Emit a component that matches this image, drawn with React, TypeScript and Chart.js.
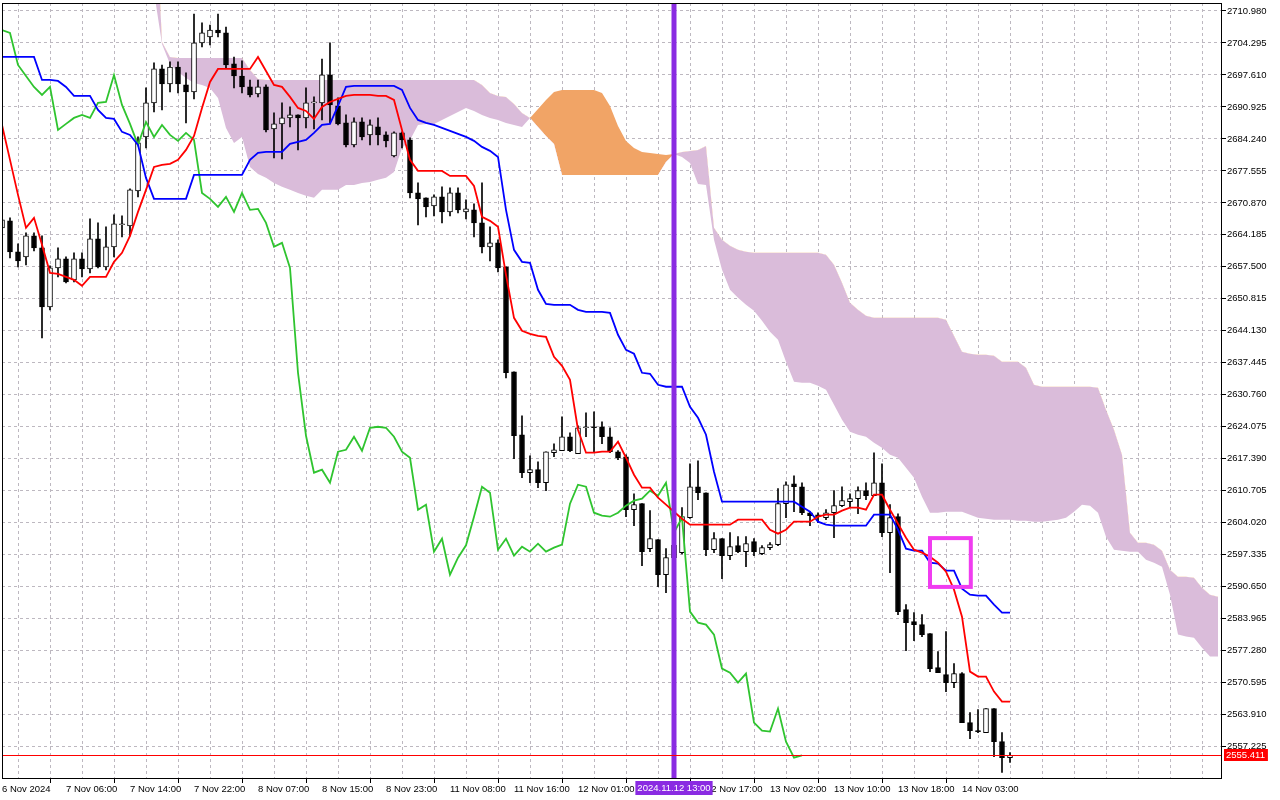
import { useEffect, useRef } from "react"
import { Chart, registerables } from "chart.js"

Chart.register(...registerables)

// XAUUSD H1, bar 0 = 6 Nov 2024 21:00 (server time)
const timeLabels = [
  "6 Nov 2024", "7 Nov 06:00", "7 Nov 14:00", "7 Nov 22:00", "8 Nov 07:00", "8 Nov 15:00",
  "8 Nov 23:00", "11 Nov 08:00", "11 Nov 16:00", "12 Nov 01:00", "12 Nov 09:00", "12 Nov 17:00",
  "13 Nov 02:00", "13 Nov 10:00", "13 Nov 18:00", "14 Nov 03:00",
]

const priceTicks = [
  2557.225, 2563.91, 2570.595, 2577.28, 2583.965, 2590.65, 2597.335, 2604.02, 2610.705, 2617.39,
  2624.075, 2630.76, 2637.445, 2644.13, 2650.815, 2657.5, 2664.185, 2670.87, 2677.555, 2684.24,
  2690.925, 2697.61, 2704.295, 2710.98,
]

const opens = [
  2665.65, 2667.11, 2660.64, 2659.59, 2663.98, 2661.47, 2649.15, 2657.29, 2659.18, 2654.79,
  2659.18, 2657.08, 2663.35, 2657.5, 2661.68, 2666.3, 2666.07, 2673.38, 2684.66, 2691.76,
  2698.87, 2695.73, 2699.28, 2695.52, 2694.06, 2704.3, 2705.55, 2707.01, 2706.39, 2699.91,
  2697.4, 2695.11, 2693.64, 2695.11, 2686.33, 2687.38, 2688.63, 2689.26, 2688.63, 2691.76,
  2691.76, 2697.61, 2691.14, 2687.59, 2682.99, 2687.79, 2685.08, 2686.75, 2685.08, 2680.69,
  2685.5, 2684.03, 2672.96, 2671.92, 2670.25, 2672.13, 2668.99, 2672.96, 2668.99, 2669.41,
  2666.69, 2661.68, 2662.52, 2657.5, 2635.57, 2622.41, 2614.47, 2615.1, 2612.38, 2618.65,
  2619.06, 2621.99, 2618.44, 2623.87, 2624.08, 2624.08, 2621.99, 2618.86, 2617.81, 2606.74,
  2608.0, 2598.59, 2600.47, 2593.16, 2596.71, 2597.76, 2605.07, 2611.54, 2610.29, 2598.38,
  2600.68, 2597.13, 2599.22, 2597.97, 2600.06, 2597.55, 2598.8, 2599.43, 2608.0, 2612.17,
  2611.54, 2606.11, 2605.69, 2605.07, 2606.11, 2607.58, 2608.41, 2609.04, 2610.71, 2609.67,
  2612.38, 2601.94, 2605.28, 2585.85, 2583.34, 2582.72, 2580.84, 2573.74, 2572.27, 2570.6,
  2572.48, 2562.24, 2560.57, 2560.15, 2565.17, 2558.27, 2554.93,
]

const highs = [
  2667.74, 2667.74, 2662.31, 2664.61, 2664.61, 2663.98, 2657.71, 2661.47, 2659.59, 2660.43,
  2660.43, 2667.53, 2666.69, 2665.86, 2668.37, 2668.16, 2673.8, 2684.66, 2694.9, 2700.12,
  2699.7, 2700.33, 2700.33, 2698.03, 2710.36, 2708.48, 2708.06, 2710.36, 2707.64, 2701.37,
  2700.54, 2696.56, 2696.56, 2695.52, 2689.67, 2691.76, 2690.93, 2689.26, 2694.9, 2693.02,
  2700.95, 2704.3, 2692.81, 2689.26, 2688.63, 2688.63, 2688.21, 2688.63, 2685.71, 2685.71,
  2685.71, 2684.45, 2675.05, 2671.92, 2672.55, 2674.22, 2674.01, 2674.01, 2671.5, 2670.66,
  2675.05, 2665.86, 2663.14, 2657.5, 2635.57, 2626.38, 2618.02, 2616.77, 2618.86, 2620.53,
  2626.17, 2622.83, 2624.29, 2627.01, 2627.21, 2625.12, 2623.87, 2619.1, 2618.23, 2610.08,
  2608.0, 2606.53, 2600.47, 2598.59, 2600.5, 2607.16, 2616.35, 2616.98, 2610.29, 2601.94,
  2600.68, 2601.94, 2601.1, 2601.1, 2600.68, 2599.22, 2599.85, 2611.13, 2612.59, 2613.84,
  2612.38, 2606.32, 2606.11, 2606.74, 2610.71, 2611.54, 2610.08, 2611.54, 2612.38, 2618.65,
  2616.35, 2607.79, 2605.9, 2586.9, 2585.22, 2584.81, 2580.84, 2577.07, 2581.26, 2574.57,
  2572.69, 2564.33, 2564.96, 2565.17, 2565.17, 2560.15, 2555.97,
]

const lows = [
  2665.23, 2659.38, 2657.5, 2657.92, 2660.85, 2642.67, 2648.52, 2655.42, 2654.16, 2654.37,
  2655.42, 2656.25, 2657.29, 2656.88, 2659.59, 2663.77, 2663.98, 2672.13, 2682.36, 2689.88,
  2690.3, 2694.06, 2693.85, 2687.59, 2692.6, 2703.46, 2703.88, 2705.55, 2699.07, 2694.9,
  2693.85, 2693.02, 2693.02, 2685.71, 2680.27, 2680.06, 2686.75, 2681.95, 2686.54, 2686.33,
  2688.21, 2687.59, 2687.17, 2682.57, 2682.57, 2684.03, 2682.99, 2682.99, 2682.57, 2680.48,
  2682.36, 2671.92, 2666.28, 2667.95, 2668.16, 2666.69, 2668.16, 2668.78, 2667.53, 2663.77,
  2660.43, 2658.76, 2656.46, 2634.31, 2617.39, 2613.43, 2612.38, 2611.33, 2610.71, 2617.81,
  2619.06, 2618.86, 2618.44, 2621.99, 2618.65, 2620.53, 2618.65, 2617.2, 2605.27, 2603.4,
  2595.04, 2597.97, 2590.66, 2589.4, 2595.5, 2597.5, 2604.9, 2608.83, 2597.13, 2597.76,
  2592.33, 2596.3, 2597.76, 2594.83, 2597.13, 2597.34, 2598.38, 2599.22, 2605.07, 2606.32,
  2605.69, 2603.4, 2604.02, 2604.65, 2600.89, 2607.37, 2607.37, 2605.9, 2608.83, 2609.67,
  2601.1, 2593.58, 2584.81, 2577.28, 2579.37, 2580.21, 2572.9, 2572.69, 2568.72, 2569.56,
  2562.24, 2558.9, 2560.15, 2560.15, 2555.14, 2551.8, 2553.89,
]

const closes = [
  2667.32, 2660.64, 2658.76, 2663.98, 2661.47, 2649.15, 2657.29, 2659.18, 2654.37, 2659.18,
  2657.08, 2663.35, 2657.5, 2661.68, 2666.49, 2666.49, 2673.59, 2683.41, 2691.76, 2698.87,
  2695.73, 2699.28, 2695.73, 2694.06, 2704.3, 2706.39, 2707.01, 2706.39, 2699.7, 2697.4,
  2695.11, 2693.43, 2695.11, 2686.12, 2687.38, 2688.63, 2689.26, 2688.63, 2691.76, 2691.97,
  2697.61, 2691.35, 2687.38, 2682.99, 2687.79, 2684.66, 2687.17, 2685.08, 2683.82, 2685.5,
  2684.03, 2672.96, 2671.71, 2670.04, 2672.13, 2668.99, 2672.96, 2669.41, 2669.62, 2666.69,
  2661.68, 2662.52, 2657.29, 2635.36, 2622.2, 2614.47, 2615.1, 2612.38, 2618.86, 2619.27,
  2621.99, 2619.06, 2623.87, 2624.08, 2623.87, 2621.99, 2618.86, 2617.6, 2606.74, 2607.79,
  2597.97, 2600.68, 2593.16, 2596.71, 2599.3, 2605.28, 2611.54, 2610.29, 2598.38, 2600.68,
  2597.13, 2599.01, 2597.97, 2599.64, 2597.97, 2598.8, 2599.43, 2608.0, 2611.96, 2611.54,
  2606.11, 2605.49, 2605.28, 2606.11, 2607.58, 2608.62, 2609.04, 2610.71, 2609.67, 2612.38,
  2601.94, 2605.07, 2585.43, 2583.13, 2582.72, 2580.63, 2573.53, 2572.69, 2570.6, 2572.48,
  2562.24, 2560.57, 2560.36, 2565.17, 2558.27, 2554.93, 2555.41,
]

const tenkan = [
  2687.17, 2679.86, 2672.54, 2665.65, 2667.74, 2662.1, 2656.25, 2656.04, 2655.41, 2654.79,
  2653.53, 2655.41, 2655.41, 2655.41, 2658.55, 2660.43, 2663.98, 2668.99, 2673.59, 2678.39,
  2678.81, 2679.02, 2679.86, 2681.94, 2684.87, 2690.72, 2696.15, 2698.87, 2698.87, 2698.87,
  2698.87, 2698.87, 2701.37, 2698.45, 2695.52, 2695.11, 2693.02, 2690.72, 2690.09, 2688.42,
  2690.93, 2691.97, 2692.6, 2693.23, 2693.43, 2693.43, 2693.43, 2693.23, 2693.23, 2692.39,
  2686.12, 2679.86, 2677.56, 2677.56, 2677.56, 2677.56, 2676.51, 2676.51, 2676.51, 2674.42,
  2667.95, 2667.11, 2665.86, 2655.83, 2646.85, 2644.13, 2643.51, 2643.09, 2642.88, 2638.7,
  2636.82, 2633.9, 2623.45, 2618.65, 2618.65, 2618.86, 2618.86, 2620.95, 2617.6, 2614.05,
  2611.34, 2611.34, 2609.25, 2607.79, 2606.32, 2604.86, 2603.61, 2603.61, 2603.61, 2603.61,
  2603.61, 2603.61, 2604.65, 2604.65, 2604.65, 2604.65, 2602.56, 2601.73, 2602.56, 2604.23,
  2604.23, 2604.23, 2605.28, 2605.7, 2605.7, 2606.53, 2607.16, 2607.16, 2606.74, 2609.87,
  2609.87, 2606.74, 2603.82, 2600.89, 2598.38, 2597.76, 2596.92, 2595.67, 2593.79, 2590.03,
  2584.39, 2572.9, 2571.85, 2571.85, 2568.72, 2566.63, 2566.63,
]

const kijun = [
  2701.37, 2701.37, 2701.37, 2701.37, 2701.37, 2696.57, 2696.57, 2696.36, 2695.11, 2693.23,
  2693.23, 2693.23, 2690.3, 2688.63, 2688.42, 2685.71, 2685.08, 2682.99, 2676.1, 2671.71,
  2671.71, 2671.71, 2671.71, 2671.71, 2676.72, 2676.72, 2676.72, 2676.72, 2676.72, 2676.72,
  2676.72, 2679.86, 2681.32, 2681.53, 2681.53, 2681.53, 2683.2, 2683.62, 2684.03, 2685.5,
  2687.17, 2687.38, 2691.14, 2695.11, 2695.31, 2695.31, 2695.31, 2695.31, 2695.31, 2695.31,
  2694.48, 2690.72, 2688.21, 2687.59, 2687.17, 2686.54, 2685.91, 2685.29, 2684.66, 2683.83,
  2682.57, 2681.74, 2680.48, 2669.41, 2661.05, 2658.55, 2658.34, 2652.7, 2649.77, 2649.57,
  2649.57, 2649.57, 2648.52, 2648.1, 2648.1, 2648.1, 2647.89, 2643.3, 2640.16, 2639.33,
  2635.36, 2635.15, 2632.85, 2632.44, 2632.44, 2632.44, 2628.26, 2625.96, 2622.41, 2614.68,
  2608.41, 2608.41, 2608.41, 2608.41, 2608.41, 2608.41, 2608.41, 2608.41, 2608.41, 2608.41,
  2607.37, 2606.32, 2604.23, 2603.61, 2603.4, 2603.4, 2603.4, 2603.4, 2603.4, 2605.7,
  2605.7, 2605.7, 2602.56, 2598.59, 2598.18, 2598.18, 2595.67, 2595.46, 2594.0, 2594.0,
  2590.24, 2588.98, 2588.78, 2588.78, 2586.9, 2585.22, 2585.22,
]

// Senkou spans run 26 bars past the last candle; earlier values sit above the visible range
const spanA = [
  null, null, null, null, null, null, null, null, null, null,
  null, null, null, null, null, null, null, null, null, 2715.0,
  2704.09, 2699.91, 2698.24, 2696.99, 2695.94, 2695.52, 2694.9, 2692.81, 2686.54, 2683.41,
  2684.66, 2678.39, 2676.93, 2676.1, 2675.05, 2674.22, 2673.59, 2672.96, 2672.34, 2671.92,
  2673.59, 2673.59, 2673.59, 2674.63, 2674.63, 2675.05, 2675.26, 2675.68, 2676.1, 2677.35,
  2682.36, 2684.03, 2687.17, 2687.38, 2687.38, 2688.21, 2689.05, 2689.88, 2690.72, 2690.09,
  2689.26, 2688.63, 2688.21, 2687.59, 2687.17, 2686.75, 2688.63, 2690.51, 2692.39, 2694.06,
  2694.48, 2694.48, 2694.48, 2694.48, 2694.48, 2693.85, 2691.14, 2686.96, 2683.83, 2682.36,
  2681.53, 2681.32, 2681.11, 2680.9, 2681.11, 2680.48, 2679.23, 2674.84, 2674.63, 2663.14,
  2656.88, 2652.7, 2651.03, 2649.57, 2648.31, 2646.22, 2643.93, 2642.25, 2637.66, 2633.48,
  2633.27, 2633.27, 2632.64, 2631.81, 2628.68, 2625.54, 2623.04, 2622.41, 2621.99, 2620.74,
  2619.69, 2618.23, 2617.6, 2615.51, 2613.43, 2609.46, 2606.11, 2606.11, 2606.32, 2606.32,
  2606.32, 2605.7, 2605.07, 2604.86, 2604.65, 2604.65, 2604.65, 2604.44, 2604.44, 2604.23,
  2604.23, 2604.44, 2604.65, 2605.07, 2606.32, 2607.79, 2607.58, 2606.11, 2601.1, 2598.38,
  2598.18, 2597.97, 2597.97, 2596.3, 2595.67, 2594.83, 2588.98, 2580.63, 2580.21, 2580.0,
  2577.91, 2576.03, 2576.03,
]

const spanB = [
  null, null, null, null, null, null, null, null, null, null,
  null, null, null, null, null, null, null, null, null, 2740.0,
  2704.51, 2701.37, 2701.16, 2701.16, 2701.16, 2701.16, 2701.16, 2701.16, 2701.16, 2701.16,
  2701.16, 2698.66, 2696.78, 2696.57, 2696.57, 2696.57, 2696.57, 2696.57, 2696.57, 2696.57,
  2696.57, 2696.57, 2696.57, 2696.57, 2696.57, 2696.57, 2696.57, 2696.57, 2696.57, 2696.57,
  2696.57, 2696.57, 2696.57, 2696.57, 2696.57, 2696.57, 2696.57, 2696.57, 2696.57, 2696.57,
  2695.52, 2693.85, 2693.23, 2693.02, 2691.55, 2689.67, 2688.63, 2686.75, 2684.87, 2683.2,
  2676.72, 2676.72, 2676.72, 2676.72, 2676.72, 2676.72, 2676.72, 2676.72, 2676.72, 2676.72,
  2676.72, 2676.72, 2676.72, 2679.44, 2681.11, 2681.53, 2681.74, 2681.94, 2682.78, 2665.65,
  2663.14, 2661.89, 2661.05, 2660.64, 2660.43, 2660.43, 2660.43, 2660.43, 2660.43, 2660.43,
  2660.43, 2660.43, 2660.43, 2660.01, 2657.92, 2654.16, 2649.98, 2648.52, 2647.27, 2646.85,
  2646.85, 2646.85, 2646.85, 2646.85, 2646.85, 2646.85, 2646.85, 2646.85, 2646.43, 2643.09,
  2639.75, 2639.33, 2639.12, 2639.12, 2638.91, 2637.66, 2637.66, 2637.66, 2636.4, 2632.85,
  2632.44, 2632.44, 2632.44, 2632.44, 2632.44, 2632.44, 2632.44, 2632.23, 2627.63, 2623.45,
  2618.23, 2601.94, 2599.85, 2599.85, 2599.43, 2598.18, 2594.21, 2592.75, 2592.75, 2592.54,
  2590.45, 2588.98, 2588.57,
]

const chikouShift = 26
const bidPrice = 2555.411
const markerBar = 84
const markerText = "2024.11.12 13:00"
const boxBars = [116, 121.1]
const boxPrices = [2600.8, 2590.6]

const FONT = { family: "'Liberation Sans', Arial, sans-serif", size: 9.5 }
const GRID = "#bdb8c0"

const xy = (arr: (number | null)[]) => arr.map((v, i) => ({ x: i, y: v }))

const overlay = {
  id: "overlay",
  afterDatasetsDraw(chart: any) {
    const { ctx, chartArea: a, scales } = chart
    const x = scales.x
    const y = scales.y
    ctx.save()
    ctx.beginPath()
    ctx.rect(a.left, a.top, a.right - a.left, a.bottom - a.top)
    ctx.clip()

    const x1 = x.getPixelForValue(boxBars[0])
    const x2 = x.getPixelForValue(boxBars[1])
    const y1 = y.getPixelForValue(boxPrices[0])
    const y2 = y.getPixelForValue(boxPrices[1])
    ctx.strokeStyle = "#f03cf0"
    ctx.lineWidth = 4
    ctx.strokeRect(x1, y1, x2 - x1, y2 - y1)

    const mx = x.getPixelForValue(markerBar)
    ctx.strokeStyle = "#8a2be2"
    ctx.lineWidth = 5
    ctx.beginPath()
    ctx.moveTo(mx, a.top)
    ctx.lineTo(mx, a.bottom)
    ctx.stroke()
    ctx.restore()
  },
  afterDraw(chart: any) {
    const { ctx, chartArea: a, scales } = chart
    const x = scales.x
    const y = scales.y
    ctx.save()

    const by = Math.round(y.getPixelForValue(bidPrice))
    ctx.strokeStyle = "#ff0000"
    ctx.lineWidth = 1
    ctx.beginPath()
    ctx.moveTo(a.left, by + 0.5)
    ctx.lineTo(a.right, by + 0.5)
    ctx.stroke()

    ctx.strokeStyle = "#000"
    ctx.strokeRect(a.left + 0.5, a.top + 0.5, a.right - a.left - 1, a.bottom - a.top - 1)

    ctx.font = `${FONT.size}px ${FONT.family}`
    ctx.textBaseline = "middle"

    const bt = bidPrice.toFixed(3)
    const bw = ctx.measureText(bt).width
    ctx.fillStyle = "#ff0000"
    ctx.fillRect(a.right + 2, by - 6, bw + 5, 12)
    ctx.fillStyle = "#ffffff"
    ctx.textAlign = "left"
    ctx.fillText(bt, a.right + 4, by + 0.5)

    const mx = x.getPixelForValue(markerBar)
    const mw = ctx.measureText(markerText).width + 4
    ctx.fillStyle = "#8a2be2"
    ctx.fillRect(mx - mw / 2, a.bottom + 2, mw, 14)
    ctx.fillStyle = "#ffffff"
    ctx.textAlign = "center"
    ctx.fillText(markerText, mx, a.bottom + 9.5)
    ctx.restore()
  },
}

function IchimokuChart() {
  const chartRef = useRef<HTMLCanvasElement>(null)
  const chartInstance = useRef<Chart | null>(null)

  useEffect(() => {
    if (!chartRef.current) return
    if (chartInstance.current) chartInstance.current.destroy()
    const ctx = chartRef.current.getContext("2d")
    if (!ctx) return

    const up = closes.map((c, i) => c >= opens[i])

    chartInstance.current = new Chart(ctx, {
      type: "line",
      data: {
        datasets: [
          {
            label: "Senkou Span B",
            data: xy(spanB),
            borderWidth: 0,
            borderColor: "rgba(0,0,0,0)",
            pointRadius: 0,
            fill: false,
            order: 20,
          },
          {
            label: "Senkou Span A",
            data: xy(spanA),
            borderWidth: 0,
            borderColor: "rgba(0,0,0,0)",
            pointRadius: 0,
            fill: { target: 0, above: "#f1a466", below: "#dabcda" },
            order: 19,
          },
          {
            type: "bar",
            label: "wick",
            data: lows.map((l, i) => ({ x: i, y: [l, highs[i]] })),
            backgroundColor: "#000000",
            barThickness: 1,
            grouped: false,
            order: 10,
          },
          {
            type: "bar",
            label: "body",
            data: opens.map((o, i) => ({ x: i, y: [Math.min(o, closes[i]), Math.max(o, closes[i])] })),
            backgroundColor: up.map((u) => (u ? "#ffffff" : "#000000")),
            borderColor: "#000000",
            borderWidth: 1,
            borderSkipped: false,
            minBarLength: 1,
            barThickness: 5,
            grouped: false,
            order: 9,
          },
          {
            label: "Chikou Span",
            data: closes.slice(chikouShift).map((v, i) => ({ x: i, y: v })),
            borderColor: "#2fc42f",
            borderWidth: 1.8,
            pointRadius: 0,
            order: 3,
          },
          {
            label: "Kijun-sen",
            data: xy(kijun),
            borderColor: "#0000ff",
            borderWidth: 1.8,
            pointRadius: 0,
            order: 2,
          },
          {
            label: "Tenkan-sen",
            data: xy(tenkan),
            borderColor: "#ff0000",
            borderWidth: 1.8,
            pointRadius: 0,
            order: 1,
          },
        ],
      } as any,
      options: {
        animation: false,
        responsive: true,
        maintainAspectRatio: false,
        events: [],
        layout: { padding: { left: 2, top: 3, right: 0, bottom: 0 } },
        elements: { line: { tension: 0 } },
        plugins: {
          legend: { display: false },
          tooltip: { enabled: false },
        },
        scales: {
          x: {
            type: "linear",
            min: 0,
            max: 152.5,
            offset: false,
            afterBuildTicks: (s: any) => {
              const t = []
              for (let k = 0; k <= 152; k += 4) t.push({ value: k })
              s.ticks = t
            },
            afterFit: (s: any) => {
              s.height = 21
              s.paddingLeft = 0
              s.paddingRight = 0
            },
            ticks: {
              autoSkip: false,
              maxRotation: 0,
              minRotation: 0,
              align: "start",
              padding: 1,
              color: "#000",
              font: FONT,
              callback: (v: any) => (v % 8 === 0 ? timeLabels[v / 8] ?? "" : ""),
            },
            grid: {
              color: GRID,
              lineWidth: 1,
              tickLength: 4,
              tickBorderDash: [],
              tickColor: (c: any) =>
                c.tick && c.tick.value % 8 === 0 && c.tick.value <= 120 ? "#000" : "rgba(0,0,0,0)",
            },
            border: { display: false, dash: [3, 3] },
          },
          y: {
            position: "right",
            min: 2550.45,
            max: 2712.65,
            afterBuildTicks: (s: any) => {
              s.ticks = priceTicks.map((v) => ({ value: v }))
            },
            afterFit: (s: any) => {
              s.width = 58
              s.paddingTop = 0
              s.paddingBottom = 0
            },
            ticks: {
              autoSkip: false,
              padding: 1,
              color: "#000",
              font: FONT,
              callback: (v: any) => Number(v).toFixed(3),
            },
            grid: {
              color: GRID,
              lineWidth: 1,
              tickLength: 4,
              tickBorderDash: [],
              tickColor: "#000",
            },
            border: { display: false, dash: [3, 3] },
          },
        },
      } as any,
      plugins: [overlay],
    })

    return () => {
      if (chartInstance.current) {
        chartInstance.current.destroy()
        chartInstance.current = null
      }
    }
  }, [])

  return (
    <div style={{ position: "fixed", left: 0, top: 0, width: 1280, height: 800, background: "#ffffff" }}>
      <canvas ref={chartRef} />
    </div>
  )
}

export default function App() {
  return <IchimokuChart />
}
